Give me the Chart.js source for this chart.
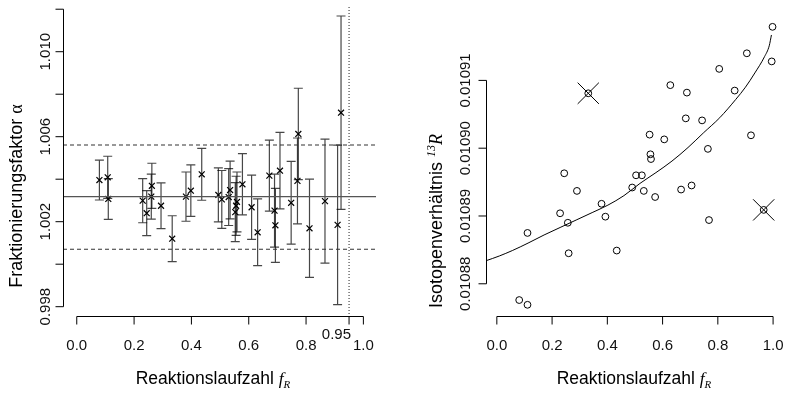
<!DOCTYPE html>
<html>
<head>
<meta charset="utf-8">
<script src="https://cdn.jsdelivr.net/npm/chart.js@4.4.1/dist/chart.umd.min.js"></script>
<style>
  html, body { margin: 0; padding: 0; background: #fff; }
  #wrap { position: relative; width: 800px; height: 396px; }
  canvas { position: absolute; top: 0; }
</style>
</head>
<body>
<div id="wrap">
  <canvas id="left" width="400" height="396" style="left:0"></canvas>
  <canvas id="right" width="400" height="396" style="left:400px"></canvas>
</div>
<script>
// ---------- Left panel data: fractionation factor alpha vs. f_R ----------
const fLeft = [0.079,0.108,0.110,0.230,0.244,0.262,0.260,0.294,0.333,0.381,0.398,0.436,0.494,0.506,0.530,0.535,0.553,0.556,0.559,0.578,0.610,0.631,0.672,0.690,0.693,0.709,0.748,0.770,0.773,0.812,0.866,0.910,0.922];
const alphaVals = [1.00396,1.00409,1.00307,1.00299,1.00240,1.00369,1.00318,1.00275,1.00120,1.00318,1.00346,1.00423,1.00326,1.00305,1.00316,1.00349,1.00245,1.00275,1.00293,1.00376,1.00268,1.00150,1.00417,1.00252,1.00183,1.00440,1.00289,1.00392,1.00613,1.00169,1.00297,1.00185,1.00713];
const alphaErr = [0.00094,0.00099,0.00096,0.00104,0.00106,0.00106,0.00106,0.00108,0.00108,0.00116,0.00121,0.00122,0.00127,0.00136,0.00134,0.00136,0.00139,0.00139,0.00141,0.00144,0.00151,0.00157,0.00167,0.00172,0.00174,0.00180,0.00195,0.00202,0.00215,0.00231,0.00292,0.00375,0.00455];
const alphaMean = 1.00318;
const alphaBand = [1.00070, 1.00561];
const fCut = 0.95;

// ---------- Right panel data: isotope ratio 13R vs. f_R ----------
const fRight = [0.081,0.111,0.111,0.229,0.244,0.257,0.260,0.290,0.379,0.393,0.434,0.490,0.504,0.525,0.532,0.553,0.556,0.558,0.573,0.606,0.628,0.667,0.684,0.688,0.705,0.743,0.764,0.768,0.805,0.861,0.905,0.920,0.995,0.998];
const ratioVals = [0.0108776,0.0108769,0.0108875,0.0108904,0.0108963,0.0108890,0.0108845,0.0108937,0.0108918,0.0108899,0.0108849,0.0108942,0.0108960,0.0108960,0.0108937,0.0109020,0.0108991,0.0108984,0.0108928,0.0109013,0.0109093,0.0108939,0.0109044,0.0109082,0.0108945,0.0109041,0.0108999,0.0108894,0.0109117,0.0109085,0.0109140,0.0109019,0.0109128,0.0109179];
const fOutlier = [0.331, 0.966];
const ratioOutlier = [0.0109081, 0.0108909];
const curveF = [-0.039,0.009,0.056,0.113,0.171,0.229,0.287,0.345,0.402,0.460,0.518,0.576,0.634,0.692,0.749,0.807,0.865,0.900,0.934,0.969,0.986,0.994];
const curveR = [0.0108834,0.0108841,0.0108849,0.0108860,0.0108872,0.0108883,0.0108894,0.0108905,0.0108916,0.0108930,0.0108948,0.0108964,0.0108981,0.0109001,0.0109023,0.0109045,0.0109072,0.0109090,0.0109111,0.0109135,0.0109151,0.0109167];

// ---------- Ticks ----------
const xTicks = [0, 0.2, 0.4, 0.6, 0.8, 1.0];
const xTickLabels = ["0.0", "0.2", "0.4", "0.6", "0.8", "1.0"];
const leftYTicks = [0.998, 1.000, 1.002, 1.004, 1.006, 1.008, 1.010, 1.012];
const leftYTickLabels = ["0.998", "", "1.002", "", "1.006", "", "1.010", ""];
const rightYTicks = [0.01088, 0.01089, 0.01090, 0.01091];
const rightYTickLabels = ["0.01088", "0.01089", "0.01090", "0.01091"];

const SANS = '"Liberation Sans", Arial, Helvetica, sans-serif';
const SERIF = '"Liberation Serif", "Times New Roman", serif';

function pts(xs, ys) { return xs.map((x, i) => ({ x: x, y: ys[i] })); }

function drawMixed(ctx, parts, cx, cy, rotate) {
  ctx.save();
  ctx.translate(cx, cy);
  if (rotate) ctx.rotate(-Math.PI / 2);
  let total = 0;
  parts.forEach(p => { ctx.font = p.font; p.w = ctx.measureText(p.text).width; total += p.w; });
  let x = -total / 2;
  ctx.textAlign = 'left';
  ctx.textBaseline = 'alphabetic';
  ctx.fillStyle = '#000';
  parts.forEach(p => { ctx.font = p.font; ctx.fillText(p.text, x, p.dy || 0); x += p.w; });
  ctx.restore();
}

function axesPlugin(cfg) {
  return {
    id: 'rAxes',
    afterDraw(chart) {
      const ctx = chart.ctx;
      const xs = chart.scales.x, ys = chart.scales.y;
      const area = chart.chartArea;
      ctx.save();
      ctx.strokeStyle = '#000';
      ctx.fillStyle = '#111';
      ctx.lineWidth = 1;
      const ay = Math.round(area.bottom) - 0.5;
      const allX = cfg.xTicks.concat(cfg.extraX ? [cfg.extraX.value] : []);
      const x0 = xs.getPixelForValue(cfg.xTicks[0]);
      const x1 = xs.getPixelForValue(cfg.xTicks[cfg.xTicks.length - 1]);
      ctx.beginPath();
      ctx.moveTo(x0, ay); ctx.lineTo(x1, ay);
      allX.forEach(v => { const px = xs.getPixelForValue(v); ctx.moveTo(px, ay); ctx.lineTo(px, ay + 8); });
      ctx.stroke();
      ctx.font = '15px ' + SANS;
      ctx.textAlign = 'center';
      ctx.textBaseline = 'alphabetic';
      cfg.xTicks.forEach((v, i) => ctx.fillText(cfg.xTickLabels[i], xs.getPixelForValue(v), 350));
      if (cfg.extraX) {
        ctx.textAlign = 'right';
        ctx.fillText(cfg.extraX.label, xs.getPixelForValue(cfg.extraX.value) + 2, 339);
      }
      const axx = Math.round(area.left) + 0.5;
      const y0 = ys.getPixelForValue(cfg.yTicks[0]);
      const y1 = ys.getPixelForValue(cfg.yTicks[cfg.yTicks.length - 1]);
      ctx.beginPath();
      ctx.moveTo(axx, y0); ctx.lineTo(axx, y1);
      cfg.yTicks.forEach(v => { const py = ys.getPixelForValue(v); ctx.moveTo(axx, py); ctx.lineTo(axx - 8, py); });
      ctx.stroke();
      cfg.yTicks.forEach((v, i) => {
        const lab = cfg.yTickLabels[i];
        if (!lab) return;
        ctx.save();
        ctx.translate(axx - cfg.yLabGap, ys.getPixelForValue(v));
        ctx.rotate(-Math.PI / 2);
        ctx.textAlign = 'center';
        ctx.fillText(lab, 0, 0);
        ctx.restore();
      });
      ctx.restore();
      drawMixed(ctx, [
        { text: 'Reaktionslaufzahl ', font: '17.5px ' + SANS },
        { text: 'f', font: 'italic 17.5px ' + SERIF },
        { text: 'R', font: 'italic 11px ' + SERIF, dy: 3.5 }
      ], cfg.xTitleX, 384, false);
      drawMixed(ctx, cfg.yTitleParts, cfg.yTitleX, cfg.yTitleY, true);
    }
  };
}

const errorBarPlugin = {
  id: 'errBars',
  beforeDatasetsDraw(chart) {
    const ctx = chart.ctx;
    const xs = chart.scales.x, ys = chart.scales.y;
    ctx.save();
    ctx.strokeStyle = 'rgba(0,0,0,0.72)';
    ctx.lineWidth = 1.2;
    fLeft.forEach((f, i) => {
      const px = xs.getPixelForValue(f);
      const top = ys.getPixelForValue(alphaVals[i] + alphaErr[i]);
      const bot = ys.getPixelForValue(alphaVals[i] - alphaErr[i]);
      ctx.beginPath();
      ctx.moveTo(px, top); ctx.lineTo(px, bot);
      ctx.moveTo(px - 4.5, top); ctx.lineTo(px + 4.5, top);
      ctx.moveTo(px - 4.5, bot); ctx.lineTo(px + 4.5, bot);
      ctx.stroke();
    });
    ctx.restore();
  }
};

const commonOpts = (pad, xr, yr) => ({
  responsive: false,
  animation: false,
  devicePixelRatio: 1,
  layout: { padding: pad },
  plugins: { legend: { display: false }, tooltip: { enabled: false }, title: { display: false } },
  scales: {
    x: { type: 'linear', display: false, min: xr[0], max: xr[1] },
    y: { type: 'linear', display: false, min: yr[0], max: yr[1] }
  }
});

// ---------- Left chart ----------
const lxr = [-0.048, 1.044];
const lyr = [0.997515, 1.012151];
new Chart(document.getElementById('left'), {
  type: 'scatter',
  data: {
    datasets: [
      { data: [{ x: lxr[0], y: alphaMean }, { x: lxr[1], y: alphaMean }], showLine: true, borderColor: '#555', borderWidth: 1.1, pointRadius: 0 },
      { data: [{ x: lxr[0], y: alphaBand[1] }, { x: lxr[1], y: alphaBand[1] }], showLine: true, borderColor: '#333', borderWidth: 1.1, borderDash: [4, 3], pointRadius: 0 },
      { data: [{ x: lxr[0], y: alphaBand[0] }, { x: lxr[1], y: alphaBand[0] }], showLine: true, borderColor: '#333', borderWidth: 1.1, borderDash: [4, 3], pointRadius: 0 },
      { data: [{ x: fCut, y: lyr[0] }, { x: fCut, y: lyr[1] }], showLine: true, borderColor: '#222', borderWidth: 1, borderDash: [1, 2], pointRadius: 0 },
      { data: pts(fLeft, alphaVals), pointStyle: 'crossRot', pointRadius: 4.2, borderColor: '#000', borderWidth: 1.2 }
    ]
  },
  options: commonOpts({ left: 63, right: 24, top: 6, bottom: 79 }, lxr, lyr),
  plugins: [errorBarPlugin, axesPlugin({
    xTicks: xTicks, xTickLabels: xTickLabels,
    extraX: { value: fCut, label: '0.95' },
    yTicks: leftYTicks, yTickLabels: leftYTickLabels, yLabGap: 14,
    xTitleX: 213,
    yTitleParts: [
      { text: 'Fraktionierungsfaktor ', font: '18px ' + SANS },
      { text: 'α', font: '18px ' + SERIF }
    ],
    yTitleX: 22, yTitleY: 196
  })]
});

// ---------- Right chart ----------
const rxr = [-0.0392, 1.0395];
const ryr = [0.0108751, 0.0109195];
new Chart(document.getElementById('right'), {
  type: 'scatter',
  data: {
    datasets: [
      { data: pts(curveF, curveR), showLine: true, borderColor: '#000', borderWidth: 1, pointRadius: 0, cubicInterpolationMode: 'monotone' },
      { data: pts(fRight, ratioVals), pointStyle: 'circle', pointRadius: 3.4, borderColor: '#000', borderWidth: 1, backgroundColor: 'rgba(0,0,0,0)' },
      { data: pts(fOutlier, ratioOutlier), pointStyle: 'circle', pointRadius: 3.4, borderColor: '#000', borderWidth: 1, backgroundColor: 'rgba(0,0,0,0)' },
      { data: pts(fOutlier, ratioOutlier), pointStyle: 'crossRot', pointRadius: 15, borderColor: '#000', borderWidth: 1 }
    ]
  },
  options: commonOpts({ left: 86, right: 3, top: 4, bottom: 79 }, rxr, ryr),
  plugins: [axesPlugin({
    xTicks: xTicks, xTickLabels: xTickLabels,
    yTicks: rightYTicks, yTickLabels: rightYTickLabels, yLabGap: 17,
    xTitleX: 234,
    yTitleParts: [
      { text: 'Isotopenverhältnis ', font: '18px ' + SANS },
      { text: '13', font: 'italic 12px ' + SERIF, dy: -7 },
      { text: 'R', font: 'italic 18px ' + SERIF }
    ],
    yTitleX: 42, yTitleY: 221
  })]
});
</script>
</body>
</html>
